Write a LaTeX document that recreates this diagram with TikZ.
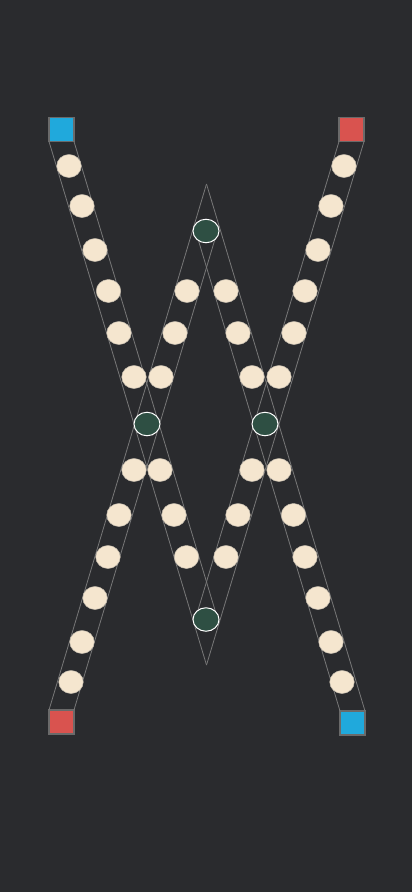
\documentclass[tikz,border=0pt]{standalone}
\usepackage{tikz}
\usetikzlibrary{shapes.geometric}
\definecolor{bgdark}{HTML}{2A2B2E}
\definecolor{lane}{HTML}{787878}
\definecolor{cream}{HTML}{F5E6CF}
\definecolor{pine}{HTML}{2E4F43}
\definecolor{skyblue}{HTML}{20A9DC}
\definecolor{tomato}{HTML}{D9534F}
\definecolor{rim}{HTML}{6A6A6A}

\begin{document}
\begin{tikzpicture}[x=1pt,y=-1pt,
    sq/.style={draw=rim,line width=1.2pt,minimum width=25pt,minimum height=24pt,inner sep=0pt,outer sep=0pt},
    bead/.style={ellipse,fill=cream,draw=cream!60!gray,line width=.5pt,minimum width=24.5pt,minimum height=23pt,inner sep=0pt},
    hub/.style={ellipse,fill=pine,draw=white,line width=1pt,minimum width=26pt,minimum height=23.5pt,inner sep=0pt}]
        \fill[bgdark](0,0)rectangle(412,892);
        % end squares
        \node[sq,fill=skyblue](blueTL)at(61.5,129.5){};
        \node[sq,fill=tomato](redTR)at(351.5,129.5){};
        \node[sq,fill=tomato](redBL)at(61.5,722){};
        \node[sq,fill=skyblue](blueBR)at(352.5,723){};
        % apexes and inner ends of the lanes
        \coordinate(apexT)at(206.5,184);
        \coordinate(apexB)at(206.5,665);
        \coordinate(j1)at(219,623.4);
        \coordinate(j2)at(194,623.4);
        \coordinate(j3)at(219,225.7);
        \coordinate(j4)at(194,225.7);
        \begin{scope}[lane,line width=.8pt]
        \draw(blueTL.south west)--(apexB);
        \draw(blueTL.south east)--(j1);
        \draw(redTR.south east)--(apexB);
        \draw(redTR.south west)--(j2);
        \draw(redBL.north west)--(apexT);
        \draw(redBL.north east)--(j3);
        \draw(blueBR.north east)--(apexT);
        \draw(blueBR.north west)--(j4);
        \end{scope}
        % beads
        \foreach \u/\v [count=\i] in {69/166,82/206,95/250,108.5/291,119/333,134/377,
            344/166,331/206,318/250,305/291,294/333,279/377,
            187/291,175/333,161/377,226/291,238/333,252/377,
            134/470,119/515,108/557,95/598,82/642,71/682,
            279/470,293.5/515,305/557,318/598,331/642,342/682,
            160/470,174/515,186.5/557,252/470,238/515,226/557}
        \node[bead](b\i)at(\u,\v){};
        \node[hub](hubT)at(206,231){};
        \node[hub](hubL)at(147,424){};
        \node[hub](hubR)at(265,424){};
        \node[hub](hubB)at(206,619.5){};
    \end{tikzpicture}
\end{document}
